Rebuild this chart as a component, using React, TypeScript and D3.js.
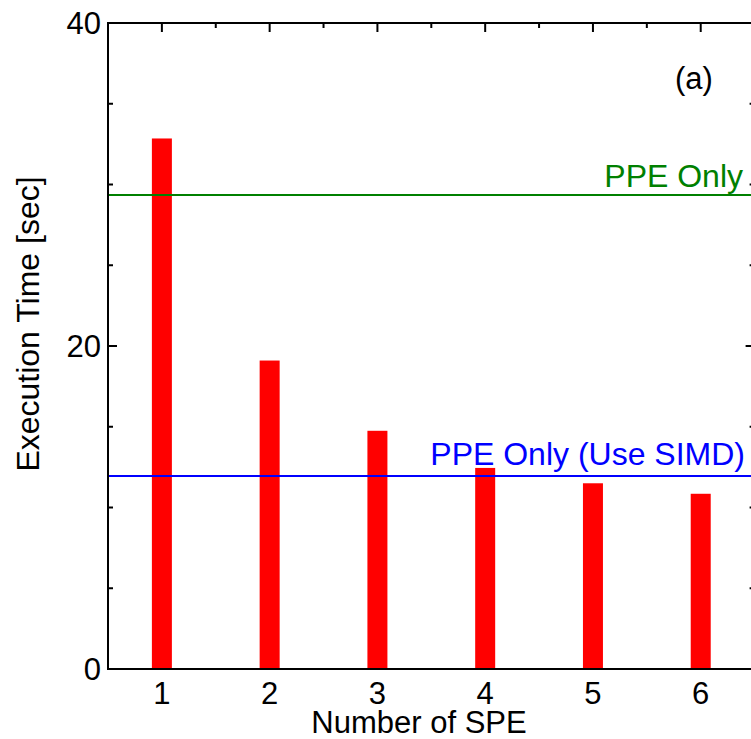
import React from "react";
import * as d3 from "d3";

// execution time per number of SPEs
const speCounts = [1, 2, 3, 4, 5, 6];
const execTimes = [32.85, 19.1, 14.75, 12.45, 11.5, 10.85];

const ppeOnly = 29.35;
const ppeOnlySimd = 11.95;

const yMajor = [0, 20, 40];
const yMinor = [5, 10, 15, 25, 30, 35];
const xMinor = [1.5, 2.5, 3.5, 4.5, 5.5];

const font = "'Liberation Sans', Arial, Helvetica, sans-serif";

const App = () => {
  const width = 751;
  const height = 739;
  const left = 108;
  const right = 754.6;
  const top = 23;
  const bottom = 669;

  const x = d3.scaleLinear().domain([0.5, 6.5]).range([left, right]);
  const y = d3.scaleLinear().domain([0, 40]).range([bottom, top]);
  const barW = 20;
  const stroke = "#000";

  return (
    <div style={{ position: "absolute", left: 0, top: 0 }}>
      <svg width={width} height={height} style={{ display: "block", fontFamily: font }}>
        <rect width={width} height={height} fill="#fff" />

        {/* bars */}
        {execTimes.map((v, i) => (
          <rect
            key={i}
            x={x(speCounts[i]) - barW / 2}
            y={y(v)}
            width={barW}
            height={y(0) - y(v)}
            fill="#ff0000"
          />
        ))}

        {/* reference lines */}
        <line x1={left} x2={right} y1={y(ppeOnly)} y2={y(ppeOnly)} stroke="#008000" strokeWidth={2} />
        <line x1={left} x2={right} y1={y(ppeOnlySimd)} y2={y(ppeOnlySimd)} stroke="#0000ff" strokeWidth={2} />
        <text x={743} y={y(ppeOnly) - 8} textAnchor="end" fontSize={32} fill="#008000">
          PPE Only
        </text>
        <text x={745} y={y(ppeOnlySimd) - 11} textAnchor="end" fontSize={32} fill="#0000ff">
          PPE Only (Use SIMD)
        </text>

        {/* frame */}
        <rect x={left} y={top} width={right - left} height={bottom - top} fill="none" stroke={stroke} strokeWidth={2} />

        {/* y ticks, left and right */}
        {yMajor.map((v) => (
          <g key={"M" + v}>
            <line x1={left} x2={left + 9} y1={y(v)} y2={y(v)} stroke={stroke} strokeWidth={2} />
            <line x1={right} x2={right - 9} y1={y(v)} y2={y(v)} stroke={stroke} strokeWidth={2} />
            <text x={101} y={y(v)} dy="0.36em" textAnchor="end" fontSize={31}>
              {v}
            </text>
          </g>
        ))}
        {yMinor.map((v) => (
          <g key={"m" + v}>
            <line x1={left} x2={left + 5} y1={y(v)} y2={y(v)} stroke={stroke} strokeWidth={2} />
            <line x1={right} x2={right - 5} y1={y(v)} y2={y(v)} stroke={stroke} strokeWidth={2} />
          </g>
        ))}

        {/* x ticks on top, labels below */}
        {speCounts.map((v) => (
          <g key={"x" + v}>
            <line x1={x(v)} x2={x(v)} y1={top} y2={top + 9} stroke={stroke} strokeWidth={2} />
            <text x={x(v)} y={704} textAnchor="middle" fontSize={31}>
              {v}
            </text>
          </g>
        ))}
        {xMinor.map((v) => (
          <line key={"xm" + v} x1={x(v)} x2={x(v)} y1={top} y2={top + 5} stroke={stroke} strokeWidth={2} />
        ))}

        {/* axis titles */}
        <text x={419} y={733} textAnchor="middle" fontSize={31}>
          Number of SPE
        </text>
        <text transform="translate(39,324) rotate(-90)" textAnchor="middle" fontSize={32}>
          Execution Time [sec]
        </text>
        <text x={694} y={89} textAnchor="middle" fontSize={31}>
          (a)
        </text>
      </svg>
    </div>
  );
};

export default App;
